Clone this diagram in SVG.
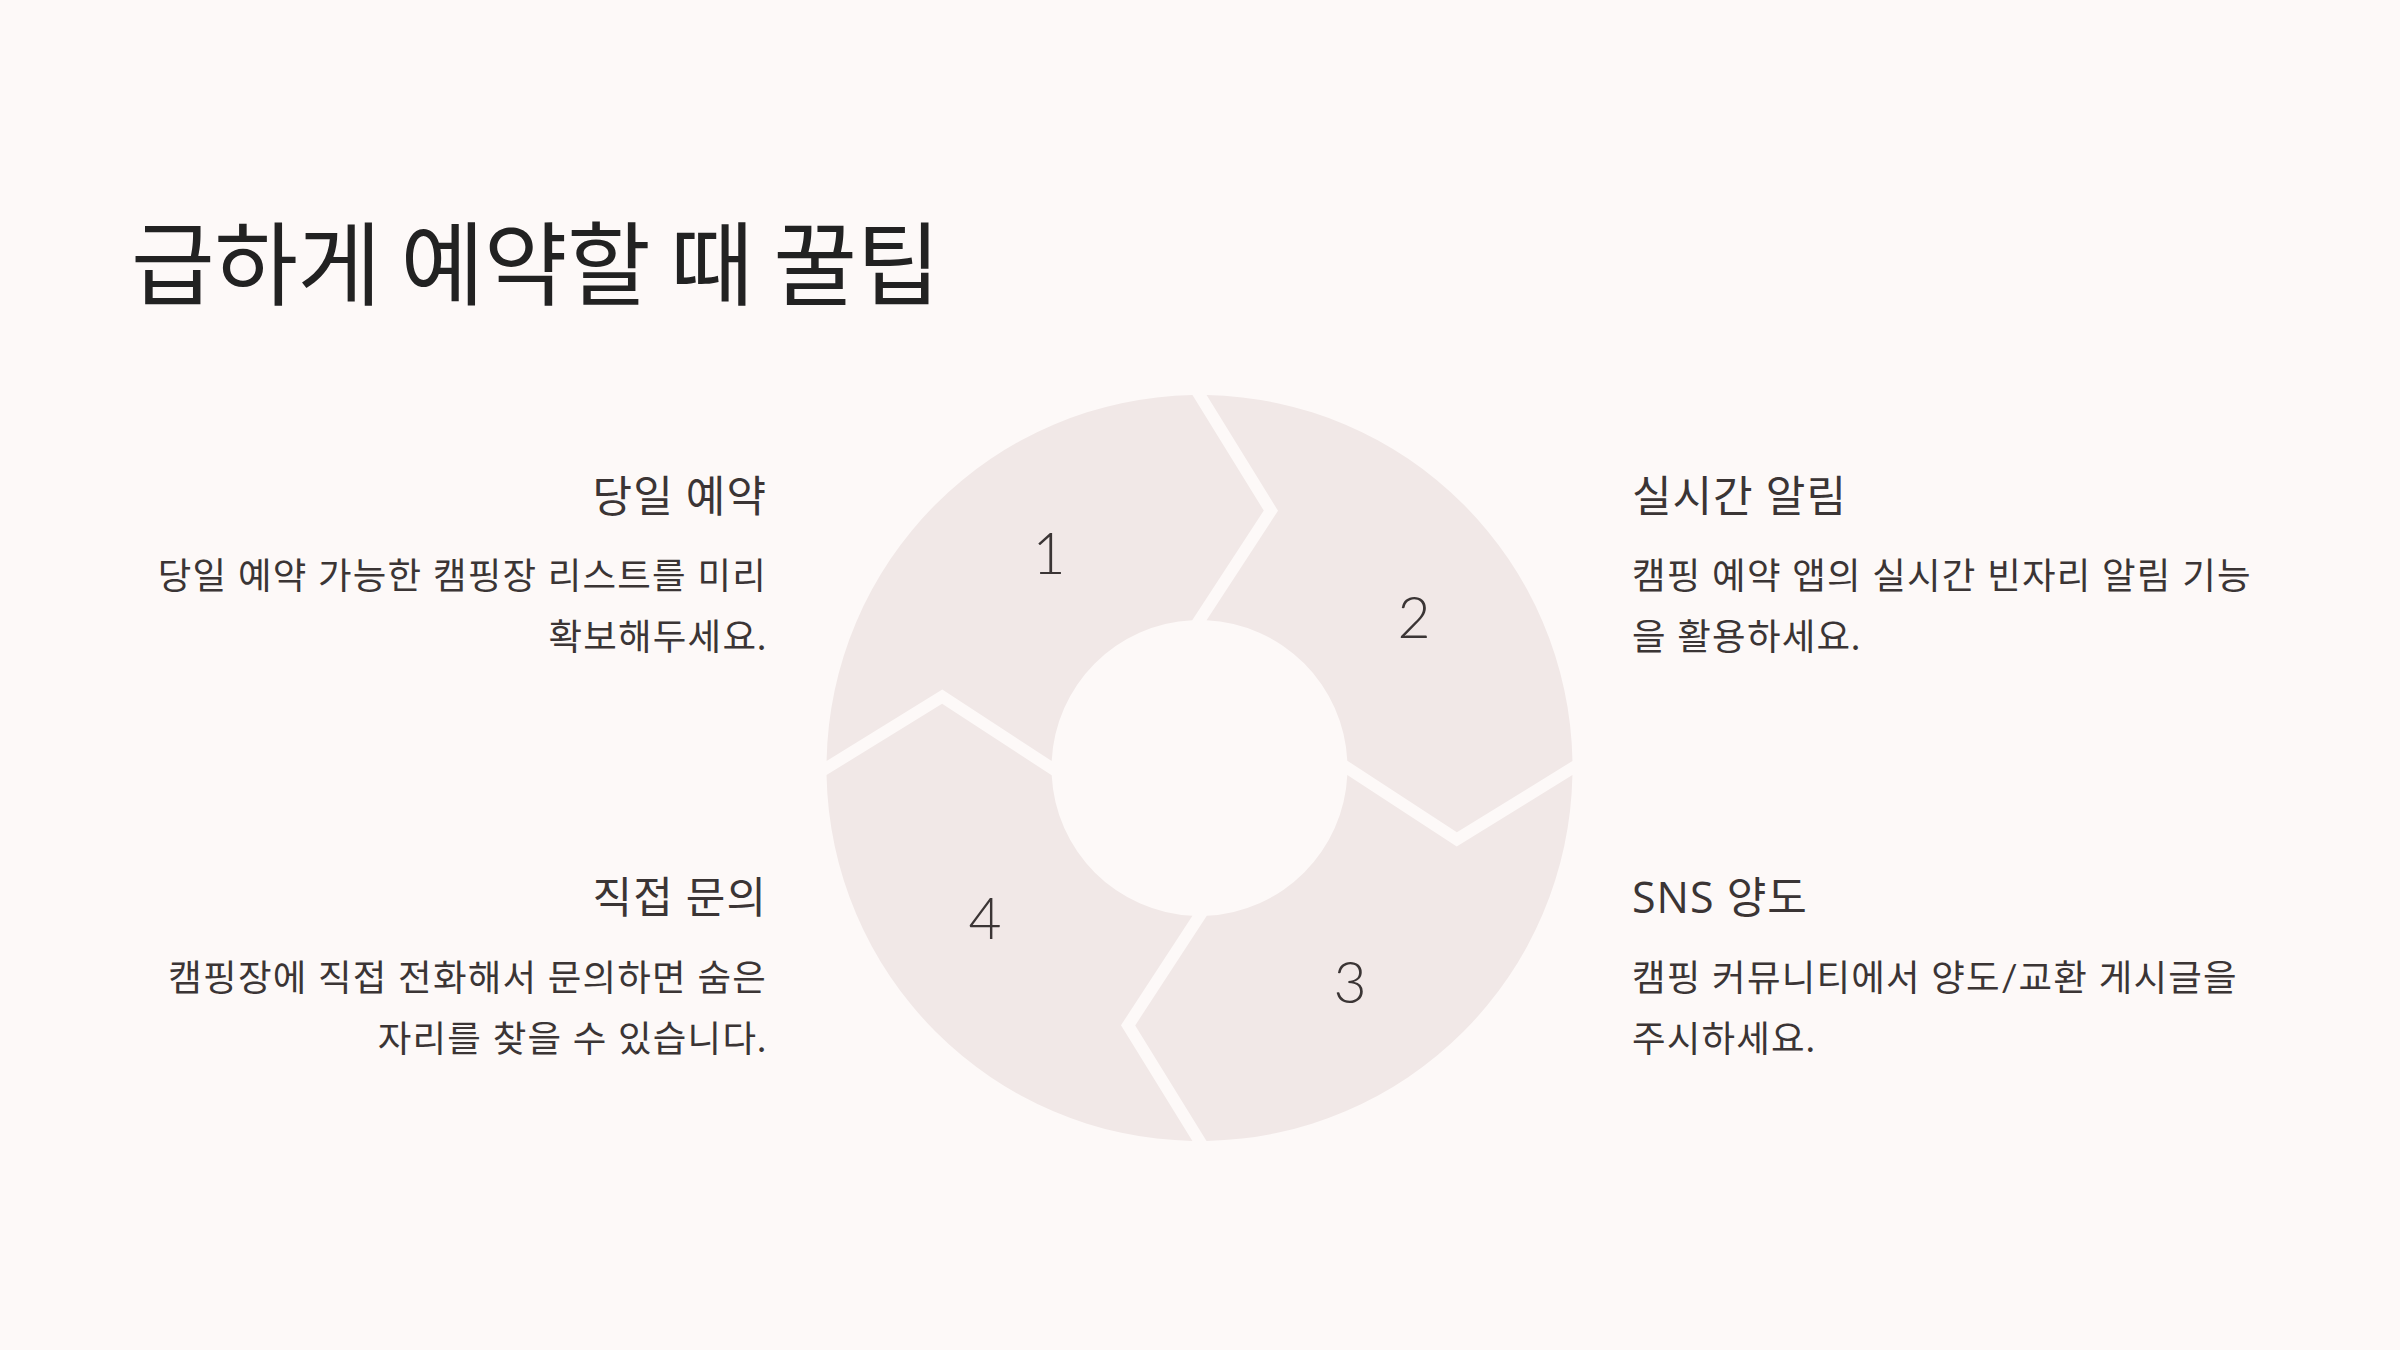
<svg xmlns="http://www.w3.org/2000/svg" xmlns:xlink="http://www.w3.org/1999/xlink" width="2400" height="1350" viewBox="0 0 2400 1350">
  <style>
    .bg { fill: #fdf9f8; }
    .seg { fill: #f1e8e7; }
    .title { font-family: "Noto Sans CJK KR", "Liberation Sans", sans-serif; font-size: 91px; letter-spacing: -0.5px; fill: #222222; }
    .head { font-family: "Open Sans", "Noto Sans CJK KR", sans-serif; font-size: 43px; letter-spacing: 1px; fill: #3b3535; }
    .body { font-family: Lato, "Noto Sans CJK KR", sans-serif; font-size: 36.5px; letter-spacing: 1.2px; fill: #3b3535; }
    .num { font-family: Lato, "Liberation Sans", sans-serif; font-weight: 300; font-size: 57px; fill: #3b3535; text-anchor: middle; }
    .end { text-anchor: end; }
  </style>
  <defs>
    <path id="seg" d="M -372.93 -7.09 A 373 373 0 0 1 -7.03 -372.97 L 64.30 -257.39 L -7.29 -147.81 A 148 148 0 0 0 -147.82 -7.05 L -257.21 -78.51 Z"/>
  </defs>
  <rect class="bg" x="0" y="0" width="2400" height="1350"/>

  <g id="title">
    <text class="title" x="131" y="298">급하게 예약할 때 꿀팁</text>
  </g>

  <g id="cycle">
    <g id="step-1">
      <use href="#seg" xlink:href="#seg" class="seg" transform="translate(1199.5 768)"/>
      <text class="num" x="1049" y="574">1</text>
    </g>
    <g id="step-2">
      <use href="#seg" xlink:href="#seg" class="seg" transform="translate(1199.5 768) rotate(90)"/>
      <text class="num" x="1414" y="638">2</text>
    </g>
    <g id="step-3">
      <use href="#seg" xlink:href="#seg" class="seg" transform="translate(1199.5 768) rotate(180)"/>
      <text class="num" x="1350" y="1003">3</text>
    </g>
    <g id="step-4">
      <use href="#seg" xlink:href="#seg" class="seg" transform="translate(1199.5 768) rotate(270)"/>
      <text class="num" x="985" y="939">4</text>
    </g>
  </g>

  <g id="connectors"></g>

  <g id="tip-1">
    <text class="head end" x="767" y="512">당일 예약</text>
    <text class="body end" x="767" y="589">당일 예약 가능한 캠핑장 리스트를 미리</text>
    <text class="body end" x="767" y="650">확보해두세요.</text>
  </g>
  <g id="tip-2">
    <text class="head" x="1632" y="512">실시간 알림</text>
    <text class="body" x="1632" y="589">캠핑 예약 앱의 실시간 빈자리 알림 기능</text>
    <text class="body" x="1632" y="650">을 활용하세요.</text>
  </g>
  <g id="tip-3">
    <text class="head" x="1632" y="913">SNS 양도</text>
    <text class="body" x="1632" y="991">캠핑 커뮤니티에서 양도/교환 게시글을</text>
    <text class="body" x="1632" y="1052">주시하세요.</text>
  </g>
  <g id="tip-4">
    <text class="head end" x="767" y="913">직접 문의</text>
    <text class="body end" x="767" y="991">캠핑장에 직접 전화해서 문의하면 숨은</text>
    <text class="body end" x="767" y="1052">자리를 찾을 수 있습니다.</text>
  </g>
</svg>
